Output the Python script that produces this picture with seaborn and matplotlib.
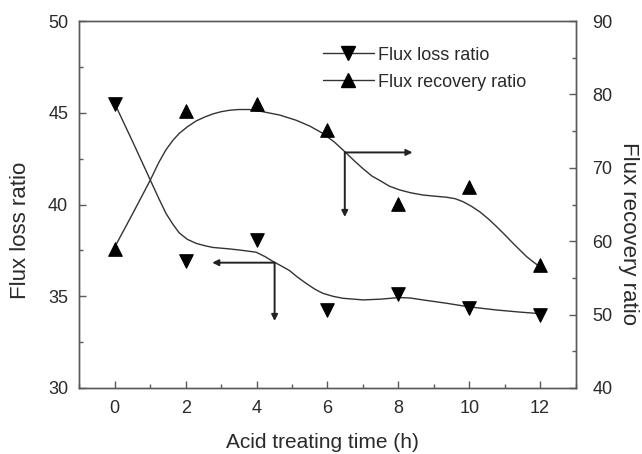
import numpy as np
import pandas as pd
import matplotlib
matplotlib.use("Agg")
import matplotlib.pyplot as plt
from matplotlib.lines import Line2D
from matplotlib.ticker import MultipleLocator
import seaborn as sns

# ---- data ----
time_h = [0, 2, 4, 6, 8, 10, 12]
flux_loss = [45.5, 36.9, 38.05, 34.25, 35.1, 34.35, 34.0]
flux_recovery = [59.0, 77.7, 78.7, 75.1, 65.1, 67.4, 56.7]

# smooth fit curves
loss_curve_t = [0, 0.5, 1.0, 1.25, 1.45, 1.65, 1.82, 2.05, 2.3, 2.55, 2.77,
                3.24, 3.6, 3.99, 4.25, 4.46, 4.7, 4.93, 5.15, 5.4, 5.65, 5.87,
                6.15, 6.43, 7.0, 7.5, 8.03, 8.35, 8.69, 9.35, 10.0, 10.77,
                11.4, 12.0]
loss_curve = [45.5, 43.45, 41.35, 40.3, 39.5, 38.9, 38.45, 38.1, 37.88, 37.75,
              37.66, 37.58, 37.5, 37.4, 37.15, 36.9, 36.65, 36.4, 36.05, 35.7,
              35.38, 35.16, 35.0, 34.89, 34.8, 34.84, 34.93, 34.9, 34.8, 34.62,
              34.42, 34.25, 34.14, 34.05]
rec_curve_t = [0, 0.5, 1.0, 1.25, 1.45, 1.65, 1.82, 2.05, 2.3, 2.55, 2.77,
               3.0, 3.24, 3.5, 3.8, 4.18, 4.65, 5.11, 5.5, 5.87, 6.2, 6.49,
               6.75, 7.0, 7.25, 7.47, 7.75, 8.03, 8.35, 8.69, 9.0, 9.35, 9.6,
               9.82, 10.05, 10.3, 10.55, 10.77, 11.0, 11.24, 11.45, 11.62,
               11.8, 12.0]
rec_curve = [59.2, 63.7, 68.3, 70.8, 72.5, 73.8, 74.7, 75.6, 76.4, 76.95,
             77.35, 77.65, 77.85, 77.95, 77.95, 77.65, 77.2, 76.5, 75.7, 74.7,
             73.5, 72.2, 71.0, 69.9, 68.9, 68.3, 67.5, 67.0, 66.6, 66.3,
             66.15, 66.0, 65.8, 65.4, 64.8, 64.0, 63.0, 62.0, 60.9, 59.7,
             58.7, 57.9, 57.2, 56.5]

labels = ["Flux loss ratio", "Flux recovery ratio"]
xlabel = "Acid treating time (h)"

sns.set_style("white")
plt.rcParams['font.family'] = ['Liberation Sans', 'DejaVu Sans']
txt = "#2a2a2a"
spine_c = "#5a5a5a"
line_c = "#333333"

fig = plt.figure(figsize=(6.42, 4.54), dpi=100)
ax = fig.add_axes([0.1235, 0.1455, 0.773, 0.808])
ax2 = ax.twinx()

df_pts = pd.DataFrame({"t": time_h, "loss": flux_loss, "rec": flux_recovery})
df_loss = pd.DataFrame({"t": loss_curve_t, "v": loss_curve})
df_rec = pd.DataFrame({"t": rec_curve_t, "v": rec_curve})

sns.lineplot(data=df_loss, x="t", y="v", ax=ax, color=line_c, lw=1.0,
             legend=False, sort=False, estimator=None)
sns.scatterplot(data=df_pts, x="t", y="loss", ax=ax, marker="v", s=95, color="black",
                edgecolor="black", legend=False, zorder=5)
sns.lineplot(data=df_rec, x="t", y="v", ax=ax2, color=line_c, lw=1.0,
             legend=False, sort=False, estimator=None)
sns.scatterplot(data=df_pts, x="t", y="rec", ax=ax2, marker="^", s=95, color="black",
                edgecolor="black", legend=False, zorder=5)

ax.set_xlim(-1, 13)
ax.set_ylim(30, 50)
ax2.set_ylim(40, 90)
ax.xaxis.set_major_locator(MultipleLocator(2))
ax.xaxis.set_minor_locator(MultipleLocator(1))
ax.yaxis.set_major_locator(MultipleLocator(5))
ax.yaxis.set_minor_locator(MultipleLocator(2.5))
ax2.yaxis.set_major_locator(MultipleLocator(10))
ax2.yaxis.set_minor_locator(MultipleLocator(5))

for a in (ax, ax2):
    a.tick_params(which="major", direction="in", length=5, width=1, color=spine_c,
                  labelsize=13, labelcolor=txt)
    a.tick_params(which="minor", direction="in", length=3, width=1, color=spine_c)
    for s in a.spines.values():
        s.set_color(spine_c)
        s.set_linewidth(1.0)
ax.tick_params(axis="x", which="both", bottom=True, top=False, pad=9)
ax.tick_params(axis="y", which="both", left=True, right=False, pad=8)
ax2.tick_params(axis="y", which="both", right=True, left=False, pad=12)

ax.set_xlabel(xlabel, fontsize=15, color=txt, va="center")
ax.xaxis.set_label_coords(0.49, -0.150)
ax.set_ylabel(labels[0], fontsize=16, color=txt, va="center")
ax.yaxis.set_label_coords(-0.118, 0.43)
ax2.set_ylabel(labels[1], fontsize=16, color=txt, rotation=270, va="center")
ax2.yaxis.set_label_coords(1.107, 0.42)

# annotation arrows
arrow_kw = dict(arrowstyle="-|>", color="#222222", lw=1.4, mutation_scale=9,
                shrinkA=0, shrinkB=0)
ax.annotate("", xy=(2.75, 36.83), xytext=(4.51, 36.83), arrowprops=arrow_kw)
ax.annotate("", xy=(4.51, 33.65), xytext=(4.51, 36.83), arrowprops=arrow_kw)
ax2.annotate("", xy=(8.4, 72.1), xytext=(6.49, 72.1), arrowprops=arrow_kw)
ax2.annotate("", xy=(6.49, 63.3), xytext=(6.49, 72.1), arrowprops=arrow_kw)

handles = [
    Line2D([], [], color=line_c, lw=1.0, marker="v", markersize=10,
           markerfacecolor="black", markeredgecolor="black"),
    Line2D([], [], color=line_c, lw=1.0, marker="^", markersize=10,
           markerfacecolor="black", markeredgecolor="black"),
]
leg = fig.legend(handles, labels, loc="upper left", bbox_to_anchor=(0.492, 0.913),
                 frameon=False, fontsize=13, handlelength=2.8, handletextpad=0.25,
                 labelspacing=0.55, labelcolor=txt, borderaxespad=0)

fig.savefig("out.png", dpi=100)
